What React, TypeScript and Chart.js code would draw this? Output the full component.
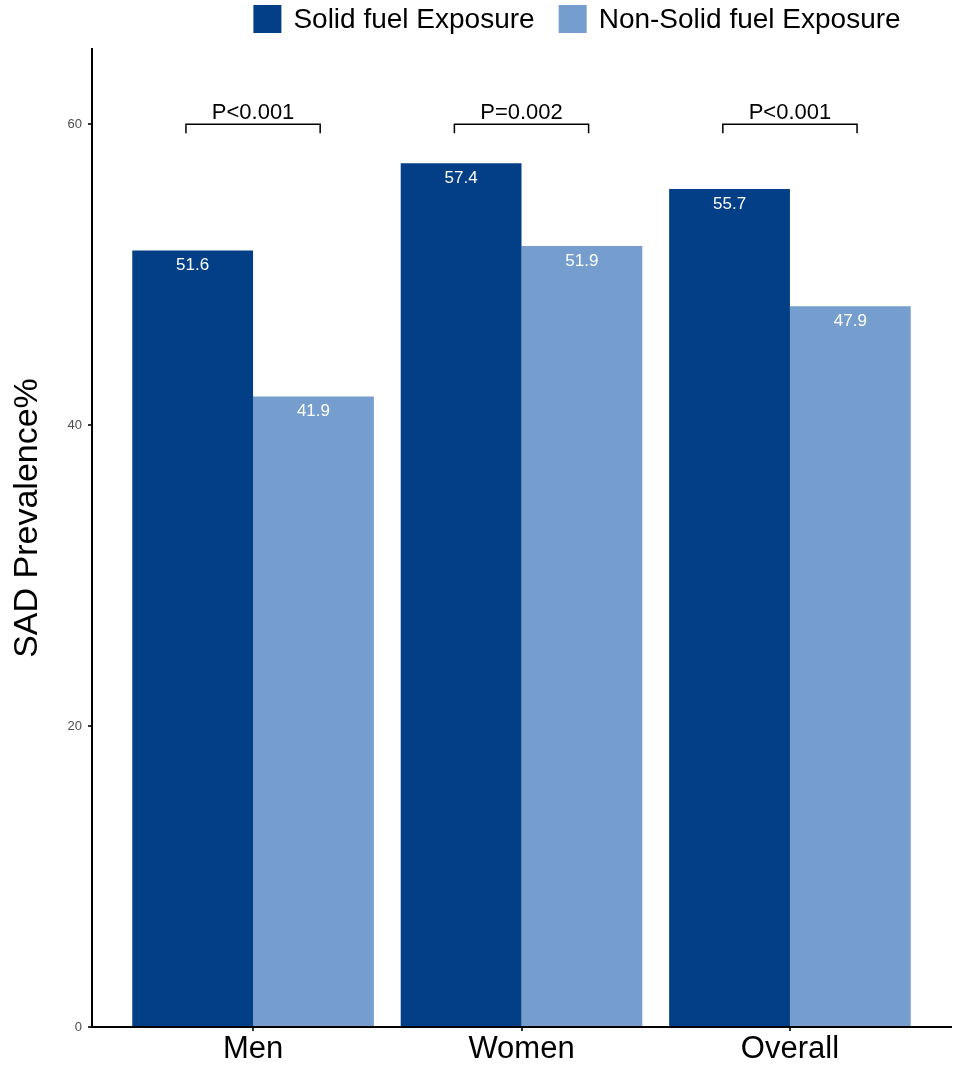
import { useEffect, useRef } from "react";
import { Chart, registerables, type ChartConfiguration, type Plugin } from "chart.js";

Chart.register(...registerables);

// Data
const categories = ["Men", "Women", "Overall"];
const solidValues = [51.6, 57.4, 55.7];
const nonSolidValues = [41.9, 51.9, 47.9];
const pLabels = ["P<0.001", "P=0.002", "P<0.001"];
const yTicks = [0, 20, 40, 60];
const seriesNames = ["Solid fuel Exposure", "Non-Solid fuel Exposure"];
const seriesColors = ["#023F86", "#759ECF"];

const FONT = "'Liberation Sans', Arial, Helvetica, sans-serif";

// white value labels just under the top of every bar
const barLabels: Plugin<"bar"> = {
  id: "barLabels",
  afterDatasetsDraw(chart) {
    const { ctx } = chart;
    ctx.save();
    ctx.fillStyle = "#ffffff";
    ctx.font = `17px ${FONT}`;
    ctx.textAlign = "center";
    ctx.textBaseline = "middle";
    chart.data.datasets.forEach((ds, di) => {
      const meta = chart.getDatasetMeta(di);
      meta.data.forEach((el: any, i) => {
        const v = (ds.data[i] as any).y as number;
        ctx.fillText(v.toFixed(1), el.x, el.y + 15);
      });
    });
    ctx.restore();
  },
};

// significance brackets, legend and y title
const extras: Plugin<"bar"> = {
  id: "extras",
  afterDraw(chart) {
    const { ctx } = chart;
    const xs = chart.scales.x;
    const ys = chart.scales.y;
    ctx.save();

    // brackets
    ctx.strokeStyle = "#000";
    ctx.lineWidth = 1.5;
    ctx.fillStyle = "#000";
    ctx.font = `22px ${FONT}`;
    ctx.textAlign = "center";
    ctx.textBaseline = "alphabetic";
    pLabels.forEach((lab, i) => {
      const x0 = xs.getPixelForValue(i + 1 - 0.25);
      const x1 = xs.getPixelForValue(i + 1 + 0.25);
      const yTop = ys.getPixelForValue(60);
      const yLow = ys.getPixelForValue(59.4);
      ctx.beginPath();
      ctx.moveTo(x0, yLow);
      ctx.lineTo(x0, yTop);
      ctx.lineTo(x1, yTop);
      ctx.lineTo(x1, yLow);
      ctx.stroke();
      ctx.fillText(lab, (x0 + x1) / 2, yTop - 5);
    });

    // legend
    ctx.font = `28px ${FONT}`;
    ctx.textAlign = "left";
    ctx.textBaseline = "middle";
    const box = 28;
    const gap = 12;
    const itemGap = 24;
    const widths = seriesNames.map((n) => ctx.measureText(n).width);
    const total = widths.reduce((a, w) => a + box + gap + w, 0) + itemGap;
    let lx = 577 - total / 2;
    const ly = 19;
    seriesNames.forEach((n, i) => {
      ctx.fillStyle = seriesColors[i];
      ctx.fillRect(lx, ly - box / 2, box, box);
      ctx.fillStyle = "#000";
      ctx.fillText(n, lx + box + gap, ly + 1);
      lx += box + gap + widths[i] + itemGap;
    });

    // y title
    ctx.translate(37, 518);
    ctx.rotate(-Math.PI / 2);
    ctx.font = `34px ${FONT}`;
    ctx.textAlign = "center";
    ctx.textBaseline = "alphabetic";
    ctx.fillStyle = "#000";
    ctx.fillText("SAD Prevalence%", 0, 0);

    ctx.restore();
  },
};

function BarChart() {
  const canvasRef = useRef<HTMLCanvasElement>(null);
  const chartRef = useRef<Chart | null>(null);

  useEffect(() => {
    if (!canvasRef.current) return;
    const ctx = canvasRef.current.getContext("2d");
    if (!ctx) return;

    if (chartRef.current) {
      chartRef.current.destroy();
    }

    const config: ChartConfiguration<"bar"> = {
      type: "bar",
      data: {
        datasets: [
          {
            label: seriesNames[0],
            data: solidValues.map((v, i) => ({ x: i + 1, y: v })) as any,
            backgroundColor: seriesColors[0],
            borderWidth: 0,
          },
          {
            label: seriesNames[1],
            data: nonSolidValues.map((v, i) => ({ x: i + 1, y: v })) as any,
            backgroundColor: seriesColors[1],
            borderWidth: 0,
          },
        ],
      },
      options: {
        animation: false,
        responsive: true,
        maintainAspectRatio: false,
        categoryPercentage: 0.9,
        barPercentage: 1,
        layout: { padding: { top: 49, right: 6, left: 0, bottom: 0 } },
        plugins: {
          legend: { display: false },
          tooltip: { enabled: false },
        },
        scales: {
          x: {
            type: "linear",
            min: 0.4,
            max: 3.6,
            offset: false,
            afterBuildTicks: (scale) => {
              scale.ticks = categories.map((_, i) => ({ value: i + 1 }));
            },
            afterFit: (scale) => {
              scale.height = 40;
            },
            ticks: {
              font: { family: FONT, size: 31 },
              color: "#000",
              padding: 0,
              callback: (v) => categories[Number(v) - 1] ?? "",
            },
            grid: {
              offset: false,
              drawOnChartArea: false,
              drawTicks: true,
              tickLength: 4,
              color: "#333",
              lineWidth: 2,
            },
            border: { display: true, color: "#000", width: 2 },
          },
          y: {
            min: 0,
            max: 65,
            afterBuildTicks: (scale) => {
              scale.ticks = yTicks.map((v) => ({ value: v }));
            },
            afterFit: (scale) => {
              scale.width = 92;
            },
            ticks: {
              font: { family: FONT, size: 13 },
              color: "#4d4d4d",
              padding: 6,
            },
            grid: {
              drawOnChartArea: false,
              drawTicks: true,
              tickLength: 4,
              color: "#333",
              lineWidth: 2,
            },
            border: { display: true, color: "#000", width: 2 },
          },
        },
      },
      plugins: [barLabels, extras],
    };

    chartRef.current = new Chart(ctx, config);

    return () => {
      if (chartRef.current) {
        chartRef.current.destroy();
        chartRef.current = null;
      }
    };
  }, []);

  return (
    <div style={{ width: 957, height: 1067, position: "relative", background: "#fff" }}>
      <canvas ref={canvasRef} />
    </div>
  );
}

export default function App() {
  useEffect(() => {
    document.body.style.margin = "0";
  }, []);
  return <BarChart />;
}
